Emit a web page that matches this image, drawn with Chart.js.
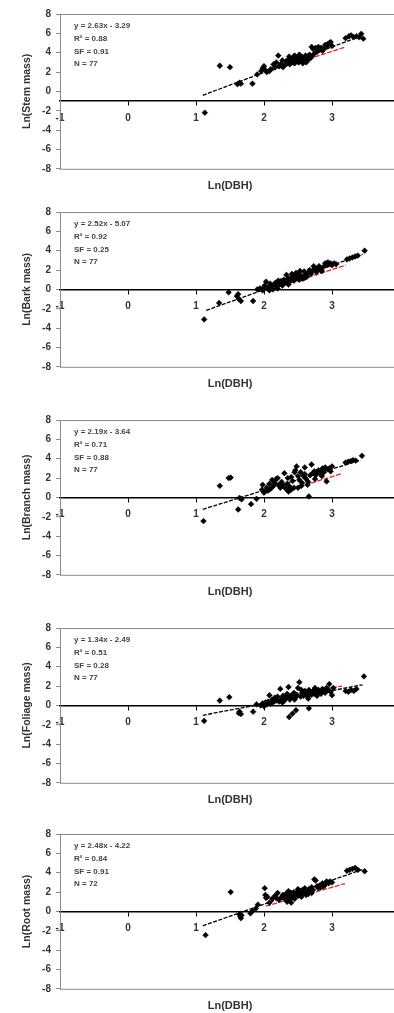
<!DOCTYPE html>
<html>
<head>
<meta charset="utf-8">
<script src="https://cdn.jsdelivr.net/npm/chart.js@4"></script>
<style>
  html, body { margin: 0; padding: 0; background: #fff; }
  body { width: 394px; height: 1013px; overflow: hidden; position: relative; }
  .panel { position: absolute; left: 0; width: 410px; height: 200px; }
</style>
</head>
<body>
<div class="panel" style="top:0px"><canvas id="c1" width="410" height="200"></canvas></div>
<div class="panel" style="top:198px"><canvas id="c2" width="410" height="200"></canvas></div>
<div class="panel" style="top:406px"><canvas id="c3" width="410" height="200"></canvas></div>
<div class="panel" style="top:614px"><canvas id="c4" width="410" height="200"></canvas></div>
<div class="panel" style="top:820px"><canvas id="c5" width="410" height="200"></canvas></div>
<script>
// ---- data (ln DBH vs ln component mass) ----
const xTitle = 'Ln(DBH)';
const yTitles = ['Ln(Stem mass)', 'Ln(Bark mass)', 'Ln(Branch mass)', 'Ln(Foliage mass)', 'Ln(Root mass)'];

const stemDbh  = [1.13,1.35,1.50,1.61,1.64,1.66,1.83,1.90,1.96,1.98,2.00,2.02,2.04,2.10,2.16,2.18,2.21,2.22,2.25,2.27,2.30,2.32,2.34,2.36,2.38,2.40,2.42,2.43,2.45,2.46,2.48,2.50,2.51,2.53,2.55,2.56,2.58,2.60,2.61,2.63,2.64,2.66,2.67,2.69,2.70,2.72,2.74,2.76,2.78,2.80,2.82,2.84,2.86,2.88,2.90,2.92,2.94,2.96,2.98,2.28,2.37,2.52,2.57,2.62,3.20,3.25,3.28,3.32,3.36,3.40,3.43,3.46,2.08,2.45,2.70,2.14,3.00];
const stemMass = [-2.2,2.65,2.5,0.75,0.9,0.8,0.8,1.75,2.1,2.4,2.6,2.2,2.0,2.3,2.5,3.0,3.7,2.6,2.85,3.2,2.7,3.1,2.9,3.3,2.8,3.2,3.0,3.5,2.9,3.3,3.1,3.5,3.0,3.3,3.6,3.1,3.4,3.2,3.7,3.4,3.6,3.3,3.8,3.5,4.6,4.4,3.9,4.5,4.1,4.6,4.3,4.5,4.2,4.4,4.8,4.6,4.9,5.0,5.1,2.5,3.6,3.8,2.9,3.0,5.5,5.7,5.8,5.6,5.7,5.6,5.95,5.45,2.1,3.7,3.6,2.8,4.7];

const barkDbh  = [1.12,1.34,1.48,1.62,1.63,1.66,1.84,1.90,1.94,1.98,2.00,2.01,2.03,2.05,2.07,2.09,2.11,2.13,2.15,2.17,2.19,2.21,2.23,2.25,2.27,2.29,2.31,2.33,2.35,2.37,2.39,2.41,2.43,2.45,2.47,2.49,2.51,2.53,2.55,2.57,2.59,2.61,2.63,2.65,2.67,2.69,2.71,2.73,2.75,2.77,2.79,2.81,2.83,2.85,2.87,2.90,2.92,2.94,2.96,2.98,3.00,3.03,3.06,3.22,3.26,3.30,3.34,3.38,3.48,2.36,2.44,2.52,2.60,2.20,2.08,1.60,2.46];
const barkMass = [-3.1,-1.4,-0.3,-0.5,-1.0,-1.2,-1.2,0.0,0.1,-0.1,0.2,0.4,0.8,0.1,0.3,0.6,0.35,0.0,0.5,0.7,0.3,0.9,0.6,0.85,0.4,1.0,0.7,1.5,1.1,0.8,1.2,1.6,1.0,1.35,1.7,1.2,1.5,1.9,1.4,1.1,1.85,1.5,1.3,1.7,2.0,1.6,1.9,2.4,2.2,1.8,2.1,2.4,2.0,1.9,2.3,2.7,2.5,2.8,2.6,2.7,2.5,2.7,2.6,3.1,3.2,3.3,3.4,3.5,4.0,0.5,0.9,1.0,1.2,0.1,-0.1,-0.7,1.55];

const branchDbh  = [1.11,1.35,1.48,1.51,1.62,1.64,1.67,1.81,1.89,1.97,1.98,2.00,2.02,2.04,2.06,2.08,2.10,2.12,2.14,2.16,2.18,2.20,2.22,2.24,2.26,2.28,2.30,2.32,2.34,2.36,2.38,2.40,2.42,2.44,2.46,2.48,2.50,2.52,2.54,2.56,2.58,2.60,2.62,2.64,2.66,2.68,2.70,2.72,2.74,2.76,2.78,2.80,2.82,2.84,2.86,2.88,2.90,2.92,2.94,2.96,2.98,3.20,3.24,3.28,3.31,3.35,3.44,2.35,2.45,2.55,2.65,2.75,2.85,2.60,2.50,2.40,3.00];
const branchMass = [-2.45,1.2,2.0,2.05,-1.25,-0.05,-0.2,-0.7,-0.15,0.8,1.3,0.5,0.65,1.0,0.7,1.4,0.9,1.8,1.2,1.5,1.9,2.0,1.3,1.0,1.6,1.2,2.5,0.9,1.4,0.6,1.1,0.8,1.7,1.0,2.8,3.2,2.2,1.8,2.6,1.5,2.2,2.4,1.9,1.3,0.1,2.3,3.4,2.5,2.7,2.3,2.6,2.8,2.5,2.7,3.0,2.6,3.1,1.65,2.9,3.0,2.7,3.6,3.7,3.75,3.85,3.8,4.3,2.0,2.6,1.2,1.6,1.9,2.2,3.1,1.0,2.1,3.2];

const foliageDbh  = [1.12,1.35,1.49,1.63,1.64,1.66,1.84,1.89,1.95,1.98,2.00,2.02,2.04,2.06,2.08,2.10,2.12,2.14,2.16,2.18,2.20,2.22,2.24,2.26,2.28,2.30,2.32,2.34,2.36,2.37,2.38,2.40,2.42,2.44,2.46,2.47,2.48,2.50,2.52,2.54,2.56,2.58,2.60,2.62,2.64,2.66,2.66,2.68,2.70,2.72,2.74,2.76,2.78,2.80,2.82,2.84,2.86,2.88,2.90,2.92,2.94,2.96,2.98,3.00,3.02,3.20,3.24,3.28,3.32,3.36,3.47,2.27,2.35,2.45,2.55,2.65,2.75];
const foliageMass = [-1.6,0.5,0.85,-0.8,-0.65,-0.9,-0.65,0.1,0.0,0.2,-0.1,0.3,0.1,0.4,1.05,0.2,0.6,0.35,0.8,0.5,0.9,0.4,1.7,0.7,1.0,0.5,0.8,1.2,1.9,-1.2,0.6,1.0,-0.85,1.3,0.8,-0.5,1.1,1.8,2.4,0.9,1.3,1.0,1.5,1.2,0.9,1.6,-0.3,1.3,1.1,1.5,1.2,1.4,1.0,1.6,1.4,1.2,1.7,1.5,1.3,1.8,1.6,2.2,1.4,1.05,1.8,1.5,1.4,1.6,1.5,1.7,3.0,0.3,0.9,0.6,1.6,0.7,1.8];

const rootDbh  = [1.14,1.51,1.64,1.65,1.66,1.67,1.80,1.83,1.91,2.01,2.02,2.03,2.05,2.08,2.12,2.16,2.18,2.22,2.26,2.30,2.32,2.34,2.36,2.38,2.40,2.42,2.44,2.46,2.48,2.50,2.52,2.54,2.56,2.58,2.60,2.62,2.64,2.66,2.68,2.70,2.72,2.74,2.76,2.78,2.80,2.82,2.84,2.86,2.88,2.90,2.92,2.95,2.97,3.00,3.22,3.26,3.30,3.34,3.38,3.48,2.35,2.45,2.55,2.65,2.28,2.38,2.50,2.60,2.70,2.40,2.20,1.88];
const rootMass = [-2.45,2.0,-0.3,-0.5,-0.7,-0.4,-0.2,0.05,0.7,2.4,1.7,1.4,1.5,0.9,1.3,1.6,1.4,1.2,1.5,1.3,1.8,1.0,2.1,1.6,1.9,1.5,2.0,1.7,1.9,1.6,2.1,1.8,2.2,1.9,2.1,1.7,2.0,2.3,2.1,2.5,2.2,3.3,3.2,2.6,2.4,2.7,2.5,2.9,2.6,2.8,3.1,2.9,3.1,3.0,4.2,4.3,4.4,4.5,4.3,4.15,1.4,1.3,1.5,1.8,1.7,1.2,2.3,2.4,1.9,0.9,1.9,0.3];

// fitted regression lines (end points) and the red reference lines
const fitX = [[1.10,3.45],[1.15,3.45],[1.10,3.42],[1.10,3.45],[1.10,3.45]];
const fitY = [[-0.40,5.78],[-2.17,3.62],[-1.23,3.85],[-1.02,2.13],[-1.49,4.34]];
const refX = [[2.11,3.18],[2.10,3.20],[2.42,3.14],[2.15,3.15],[2.03,3.19]];
const refY = [[2.14,4.55],[0.00,2.50],[0.87,2.45],[0.80,2.00],[0.55,2.87]];

const notes = [
  ['y = 2.63x - 3.29', 'R² = 0.88', 'SF = 0.91', 'N = 77'],
  ['y = 2.52x - 5.07', 'R² = 0.92', 'SF = 0.25', 'N = 77'],
  ['y = 2.19x - 3.64', 'R² = 0.71', 'SF = 0.88', 'N = 77'],
  ['y = 1.34x - 2.49', 'R² = 0.51', 'SF = 0.28', 'N = 77'],
  ['y = 2.48x - 4.22', 'R² = 0.84', 'SF = 0.91', 'N = 72']
];
const axisCross = [-1, 0, 0, 0, 0];

const xs = [stemDbh, barkDbh, branchDbh, foliageDbh, rootDbh];
const ys = [stemMass, barkMass, branchMass, foliageMass, rootMass];

const FONT = "'Liberation Sans', Arial, sans-serif";

// grey frame round the plot area
const framePlugin = {
  id: 'frame',
  beforeDatasetsDraw(chart) {
    const a = chart.chartArea, ctx = chart.ctx;
    ctx.save();
    ctx.strokeStyle = '#8a8a8a';
    ctx.lineWidth = 1;
    ctx.strokeRect(a.left + 0.5, a.top + 0.5, a.right - a.left, a.bottom - a.top);
    ctx.restore();
  }
};

// regression text block, top-left of the plot
const notesPlugin = {
  id: 'notes',
  afterDraw(chart, args, opts) {
    const a = chart.chartArea, ctx = chart.ctx;
    ctx.save();
    ctx.fillStyle = '#444';
    ctx.font = 'bold 8px ' + FONT;
    ctx.textBaseline = 'middle';
    (opts.lines || []).forEach((t, i) => {
      ctx.fillText(t, a.left + 14, a.top + 12 + i * 12.7);
    });
    ctx.restore();
  }
};

function toPoints(x, y) {
  return x.map((v, i) => ({ x: v, y: y[i] }));
}

for (let p = 0; p < 5; p++) {
  new Chart(document.getElementById('c' + (p + 1)), {
    type: 'scatter',
    data: {
      datasets: [
        {
          label: 'data',
          data: toPoints(xs[p], ys[p]),
          pointStyle: 'rectRot',
          pointRadius: 2.9,
          backgroundColor: '#000',
          borderColor: '#000',
          borderWidth: 0.5
        },
        {
          label: 'fit',
          data: toPoints(fitX[p], fitY[p]),
          showLine: true,
          pointRadius: 0,
          borderColor: '#000',
          borderWidth: 1.3,
          borderDash: [4, 1.5]
        },
        {
          label: 'ref',
          data: toPoints(refX[p], refY[p]),
          showLine: true,
          pointRadius: 0,
          borderColor: '#e8231f',
          borderWidth: 1.3,
          borderDash: [5, 1.5]
        }
      ]
    },
    options: {
      responsive: false,
      animation: false,
      layout: { padding: { top: 14, right: 10, bottom: 3, left: 0 } },
      scales: {
        x: {
          type: 'linear',
          min: -1, max: 4,
          position: { y: axisCross[p] },
          border: { color: '#000', width: 1.5 },
          grid: { drawOnChartArea: false, tickLength: 4, color: '#000' },
          ticks: { stepSize: 1, padding: 7, color: '#333', font: { family: FONT, size: 10, weight: 'bold' } }
        },
        y: {
          min: -8, max: 8,
          afterFit: s => { s.width = 60; },
          border: { color: '#8a8a8a', width: 1 },
          grid: { drawOnChartArea: false, tickLength: 4, color: '#8a8a8a' },
          ticks: { stepSize: 2, padding: 5, color: '#333', font: { family: FONT, size: 10, weight: 'bold' } },
          title: {
            display: true,
            text: yTitles[p],
            color: '#333',
            padding: { top: 21, bottom: 0 },
            font: { family: FONT, size: 10.5, weight: 'bold' }
          }
        }
      },
      plugins: {
        legend: { display: false },
        tooltip: { enabled: false },
        title: {
          display: true,
          position: 'bottom',
          fullSize: false,
          text: xTitle,
          color: '#333',
          padding: { top: 11, bottom: 4 },
          font: { family: FONT, size: 11, weight: 'bold' }
        },
        notes: { lines: notes[p] }
      }
    },
    plugins: [framePlugin, notesPlugin]
  });
}
</script>
</body>
</html>
